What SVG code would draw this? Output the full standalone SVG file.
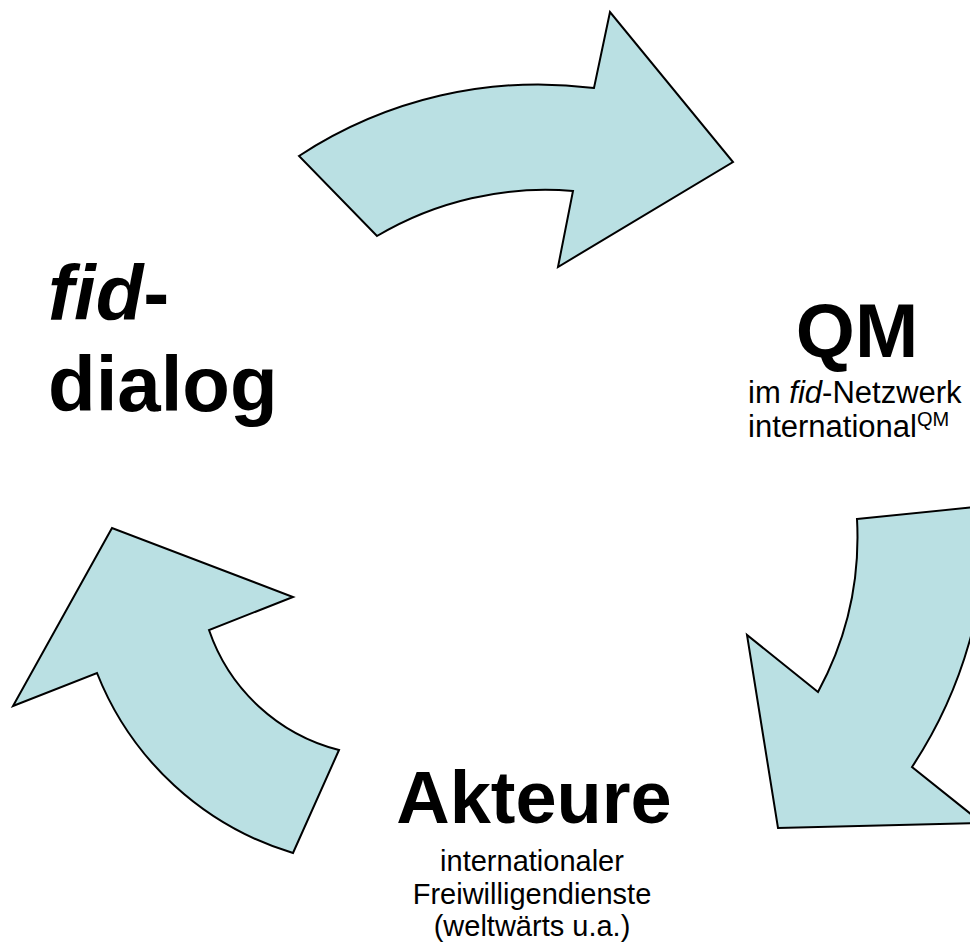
<svg xmlns="http://www.w3.org/2000/svg" width="970" height="947" viewBox="0 0 970 947">
<style>
.arrow{fill:#BAE0E3;stroke:#000;stroke-width:2;stroke-linejoin:miter}
.big{font-family:"Liberation Sans",Arial,sans-serif;font-weight:bold;fill:#000}
.small{font-family:"Liberation Sans",Arial,sans-serif;fill:#000}
</style>
<rect width="970" height="947" fill="#fff"/>
<g id="connectors">
<path id="arrow-top" class="arrow" d="M299,156 A436,436 0 0 1 594,88 L610,12 L733,162 L558,267 L573,191 A330,330 0 0 0 377,236 Z"/>
<path id="arrow-right" class="arrow" d="M857,519 L986,506 A447,447 0 0 1 912,767 L982,823 L778,828 L747,635 L818,692 A326,326 0 0 0 857,519 Z"/>
<path id="arrow-left" class="arrow" d="M339,750 L293,853 A305,305 0 0 1 97,673 L13,706 L112,528 L293,597 L209,630 A186,186 0 0 0 339,750 Z"/>
</g>
<g id="node-fid-dialog">
<text class="big" x="48" y="320" font-size="78"><tspan font-style="italic">fid</tspan>-</text>
<text class="big" x="48" y="411" font-size="78">dialog</text>
</g>
<g id="node-qm">
<text class="big" x="857" y="357" font-size="76" text-anchor="middle">QM</text>
<text class="small" x="748" y="403" font-size="31">im <tspan font-style="italic">fid</tspan>-Netzwerk</text>
<text class="small" x="748" y="437" font-size="31">international<tspan font-size="20" dy="-11">QM</tspan></text>
</g>
<g id="node-akteure">
<text class="big" x="534" y="823" font-size="74" text-anchor="middle">Akteure</text>
<text class="small" x="532" y="871" font-size="29" text-anchor="middle">internationaler</text>
<text class="small" x="532" y="904" font-size="29" text-anchor="middle">Freiwilligendienste</text>
<text class="small" x="532" y="936" font-size="29" text-anchor="middle">(weltwärts u.a.)</text>
</g>
</svg>
